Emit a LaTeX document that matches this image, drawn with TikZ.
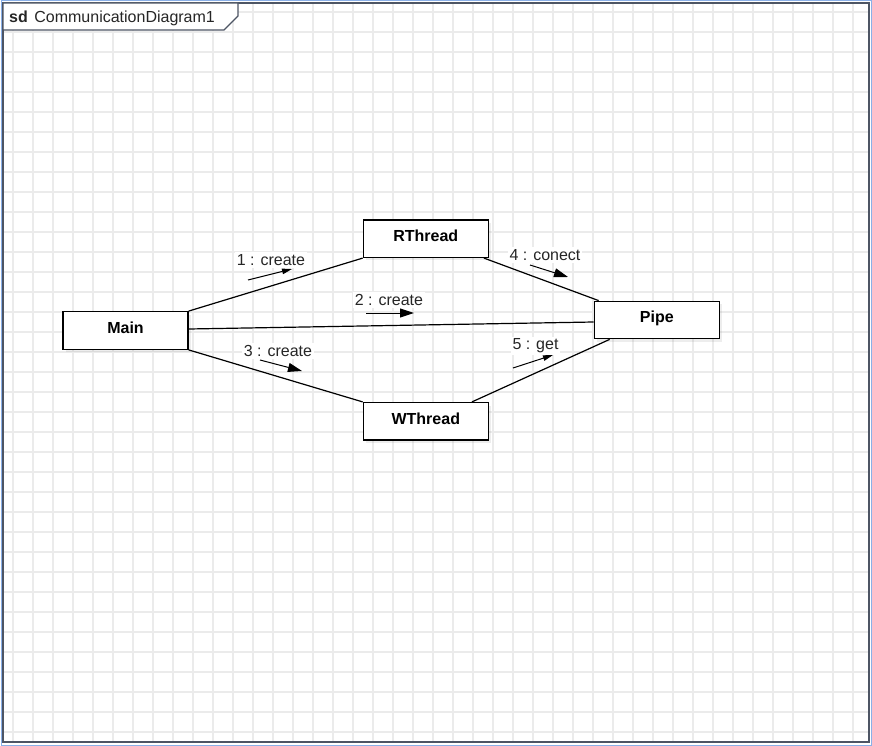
\documentclass[tikz,border=0pt]{standalone}
\usepackage{fontspec}
\setmainfont{Liberation Sans}
\usetikzlibrary{positioning,arrows.meta,shadows}
\definecolor{gridgray}{HTML}{EBEBEB}
\definecolor{framegray}{HTML}{4D5564}
\definecolor{selblue}{HTML}{8AB0E8}

\tikzset{
  object/.style={draw, line width=1.3pt, fill=white, inner sep=0pt,
    minimum width=125pt, minimum height=37.5pt,
    text height=11.5pt, text depth=6pt,
    font=\fontsize{16}{19}\selectfont\bfseries,
    drop shadow={shadow xshift=3pt, shadow yshift=-3pt, opacity=0.14}},
  link/.style={line width=1.2pt},
  msg/.style={line width=1pt, -{Triangle[length=14pt,width=9pt]}},
  smallmsg/.style={line width=1pt, -{Triangle[length=10pt,width=5.5pt]}},
  msglabel/.style={fill=white, inner sep=2pt, text=black!85},
  gridline/.style={gridgray, line width=1.2pt}
}

\begin{document}
\begin{tikzpicture}[x=1pt, y=-1pt, font=\fontsize{16}{19}\selectfont]
      \useasboundingbox (0,0) rectangle (872,746);
      % Grid and frame
      \foreach \x in {13,33,...,853}
        \draw[gridline] (\x,3) -- (\x,742);
      \foreach \y in {12,32,...,732}
        \draw[gridline] (3,\y) -- (869,\y);
      \draw[selblue, line width=1pt] (1.5,1) rectangle (871,745);
      \draw[framegray, line width=1.5pt] (3,3) rectangle (869,742);
      \draw[framegray, line width=1.3pt, fill=white] (3,3) -- (238,3) -- (238,16) -- (224,30) -- (3,30) -- cycle;
      \node[anchor=base west, inner sep=0pt, text=black!85] (title) at (9,23)
        {\textbf{sd}\hspace{6.5pt}CommunicationDiagram1};

      % Define nodes
      \node[object] (main) at (125.5,330.5) {Main};
      \node[object, above right=53pt and 174pt of main] (rthread) {RThread};
      \node[object, below right=52pt and 174pt of main] (wthread) {WThread};
      \node[object, right=405pt of main, yshift=10.5pt] (pipe) {Pipe};

      % Connect the nodes
      \draw[link] (main.north east) -- (rthread.south west);
      \draw[link] ([yshift=1.5pt]main.east) -- ([yshift=-2pt]pipe.west);
      \draw[link] (main.south east) -- (wthread.north west);
      \draw[link] ([xshift=-5pt]rthread.south east) -- ([xshift=5pt]pipe.north west);
      \draw[link] ([xshift=-17pt]wthread.north east) -- ([xshift=16pt]pipe.south west);

      % Messages
      \coordinate (m1a) at (248,280); \coordinate (m1b) at (292,269);
      \coordinate (m2a) at (366,313); \coordinate (m2b) at (414,313);
      \coordinate (m3a) at (260,360); \coordinate (m3b) at (302,371);
      \coordinate (m4a) at (530,265); \coordinate (m4b) at (568,277);
      \coordinate (m5a) at (513,368); \coordinate (m5b) at (553,355);
      \node[msglabel] (m1) at (271,260) {1 : create};
      \node[msglabel] (m2) at (389,300) {2 : create};
      \node[msglabel] (m3) at (278,351) {3 : create};
      \node[msglabel] (m4) at (545,255) {4 : conect};
      \node[msglabel] (m5) at (535.5,346) {5 : get};
      \draw[smallmsg] (m1a) -- (m1b);
      \draw[msg] (m2a) -- (m2b);
      \draw[msg] (m3a) -- (m3b);
      \draw[msg] (m4a) -- (m4b);
      \draw[smallmsg] (m5a) -- (m5b);
\end{tikzpicture}
\end{document}
